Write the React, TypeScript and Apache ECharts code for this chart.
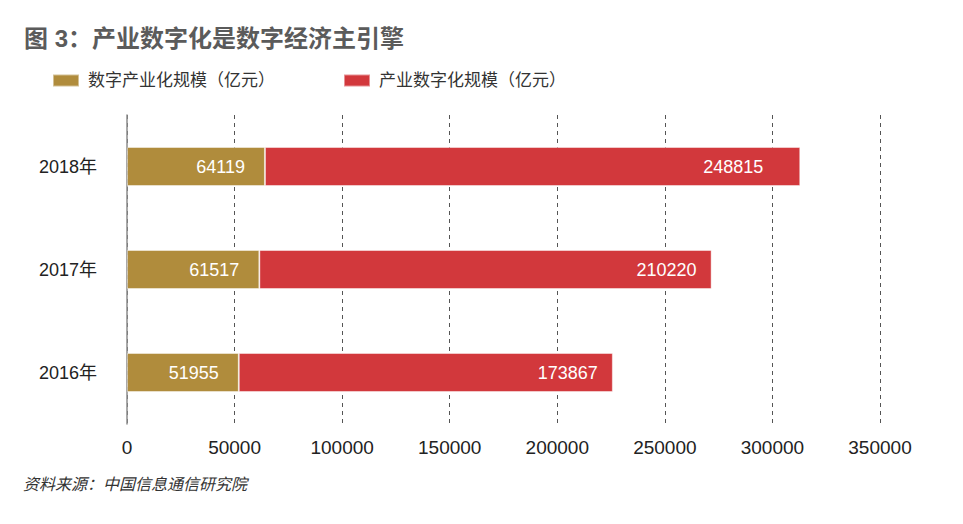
import React, { useEffect, useRef } from "react";
import * as echarts from "echarts";

const titleText = "图 3：产业数字化是数字经济主引擎";
const sourceText = "资料来源：中国信息通信研究院";
const categories = ["2016年", "2017年", "2018年"];
const seriesNames = ["数字产业化规模（亿元）", "产业数字化规模（亿元）"];
const digitalIndustry = [51955, 61517, 64119];
const industryDigital = [173867, 210220, 248815];

const FONT = '"Liberation Sans", Arial, "Noto Sans CJK SC", sans-serif';
const GOLD = "#B08C3C";
const RED = "#D2383C";

export default function App() {
  const ref = useRef<HTMLDivElement>(null);
  useEffect(() => {
    if (!ref.current) return;
    const chart = echarts.init(ref.current, null, { renderer: "svg" });
    chart.setOption({
      animation: false,
      backgroundColor: "#ffffff",
      textStyle: { fontFamily: FONT },
      title: {
        text: titleText,
        left: 24,
        top: 26,
        padding: 0,
        textStyle: { fontSize: 24, fontWeight: "bold", color: "#5b5b5b", fontFamily: FONT },
      },
      legend: [
        {
          data: [seriesNames[0]],
          left: 52,
          top: 72,
          padding: 0,
          icon: "rect",
          itemWidth: 26,
          itemHeight: 12,
          textStyle: { fontSize: 17, color: "#333", padding: [0, 0, 0, 4], fontFamily: FONT },
        },
        {
          data: [seriesNames[1]],
          left: 343,
          top: 72,
          padding: 0,
          icon: "rect",
          itemWidth: 26,
          itemHeight: 12,
          textStyle: { fontSize: 17, color: "#333", padding: [0, 0, 0, 4], fontFamily: FONT },
        },
      ],
      grid: { left: 127, right: 83, top: 115, bottom: 100, containLabel: false },
      xAxis: {
        type: "value",
        min: 0,
        max: 350000,
        interval: 50000,
        axisLine: { show: false },
        axisTick: { show: false },
        axisLabel: {
          fontSize: 19,
          color: "#222",
          margin: 14,
          fontFamily: FONT,
          formatter: (v: number) => String(v),
        },
        splitLine: { show: true, lineStyle: { type: [4, 4], color: "#555", width: 1 } },
      },
      yAxis: {
        type: "category",
        data: categories,
        axisLine: { show: true, lineStyle: { color: "#8c8c8c", width: 1.5 } },
        axisTick: { show: false },
        axisLabel: { fontSize: 18, color: "#222", margin: 30, fontFamily: FONT },
      },
      series: [
        {
          name: seriesNames[0],
          type: "bar",
          stack: "total",
          barWidth: 39,
          itemStyle: { color: GOLD, borderColor: "rgba(255,255,255,0.45)", borderWidth: 1 },
          label: {
            show: true,
            position: "insideRight",
            distance: 20,
            color: "#fff",
            fontSize: 18,
            fontFamily: FONT,
          },
          data: digitalIndustry,
        },
        {
          name: seriesNames[1],
          type: "bar",
          stack: "total",
          barWidth: 39,
          itemStyle: { color: RED, borderColor: "rgba(255,255,255,0.45)", borderWidth: 1 },
          label: {
            show: true,
            position: "insideRight",
            distance: 15,
            color: "#fff",
            fontSize: 18,
            fontFamily: FONT,
          },
          data: industryDigital.map((v, i) =>
            i === 2 ? { value: v, label: { distance: 37 } } : v
          ),
        },
      ],
      graphic: [
        {
          type: "text",
          left: 23,
          top: 476,
          style: {
            text: sourceText,
            fontSize: 16,
            fontStyle: "italic",
            fill: "#333",
            fontFamily: FONT,
          },
        },
      ],
    });
    return () => chart.dispose();
  }, []);
  return (
    <div
      ref={ref}
      style={{ position: "fixed", left: 0, top: 0, width: 963, height: 524 }}
    />
  );
}
